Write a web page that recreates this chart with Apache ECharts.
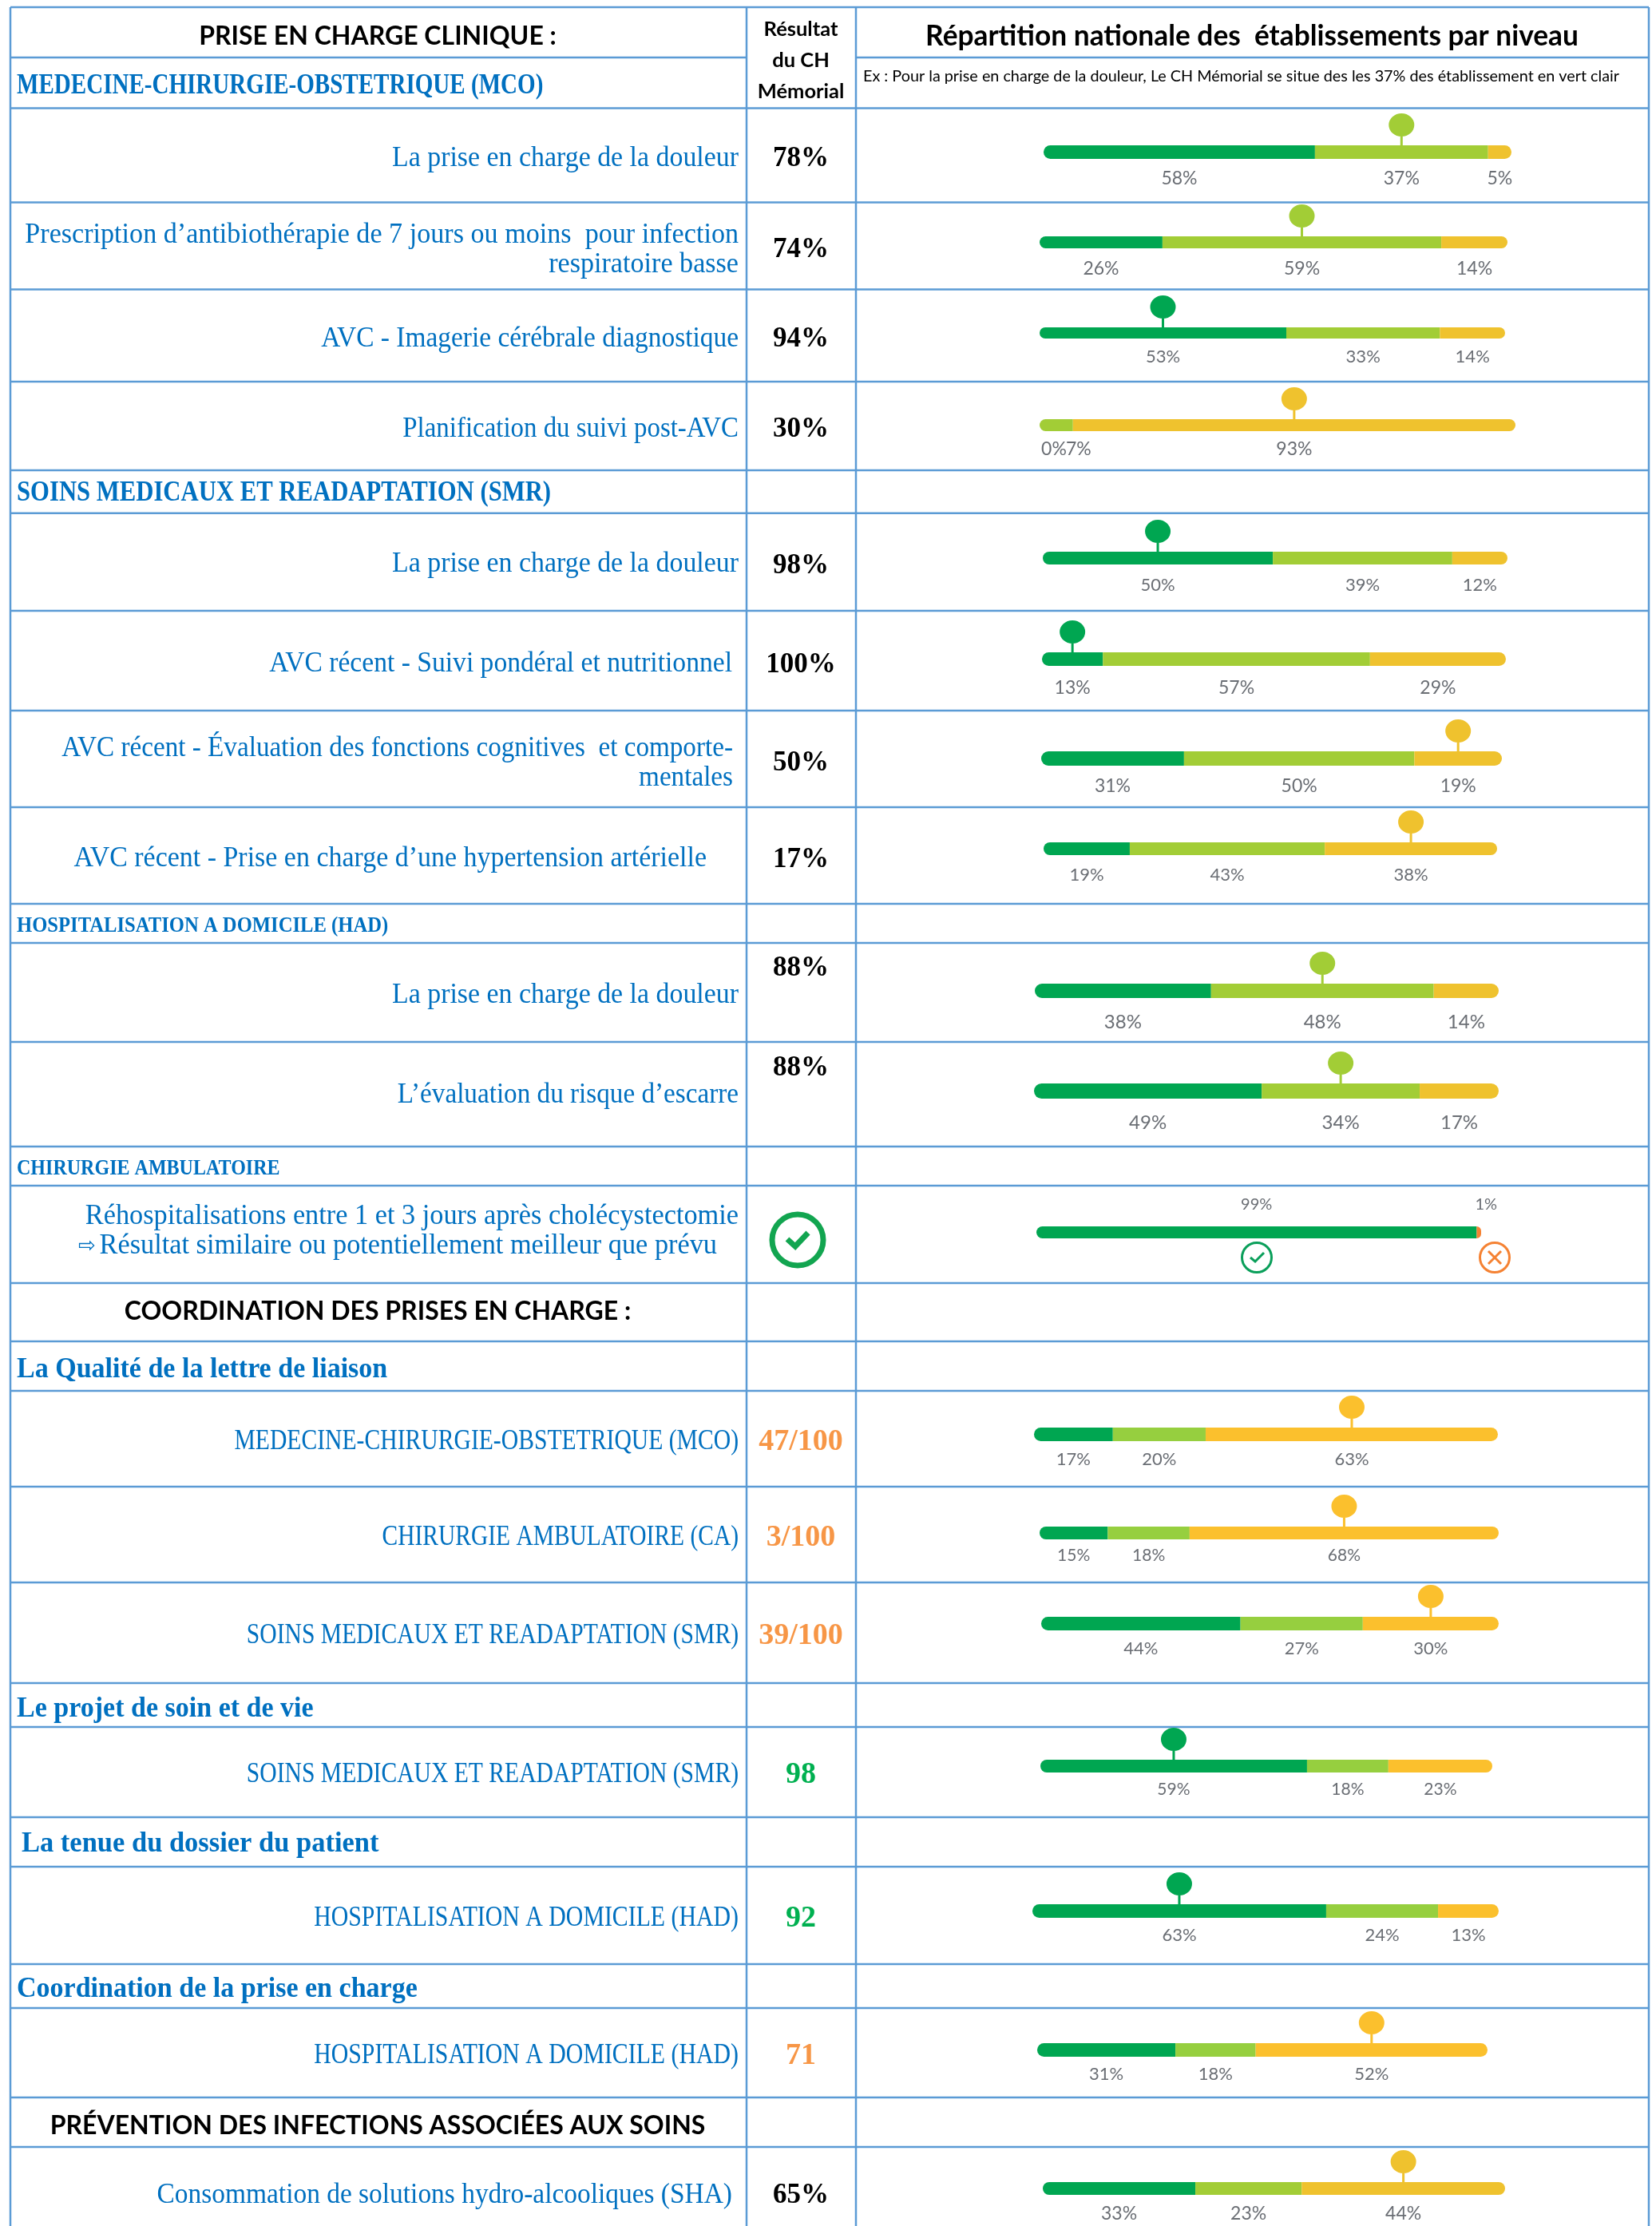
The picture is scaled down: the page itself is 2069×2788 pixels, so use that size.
<!DOCTYPE html>
<html>
<head>
<meta charset="utf-8">
<title>Qualité CH Mémorial</title>
<script src="https://cdn.jsdelivr.net/npm/echarts@6/dist/echarts.min.js"></script>
<style>
    html, body { margin: 0; padding: 0; background: #fff; }
    #chart { width: 2069px; height: 2788px; }
</style>
</head>
<body>
<div id="chart"></div>
<script>
// valeurs : une ligne par indicateur
const rowNames = [
    'La prise en charge de la douleur',
    'Prescription d’antibiothérapie de 7 jours ou moins  pour infection\nrespiratoire basse',
    'AVC - Imagerie cérébrale diagnostique',
    'Planification du suivi post-AVC',
    'La prise en charge de la douleur',
    'AVC récent - Suivi pondéral et nutritionnel',
    'AVC récent - Évaluation des fonctions cognitives  et comporte-\nmentales',
    'AVC récent - Prise en charge d’une hypertension artérielle',
    'La prise en charge de la douleur',
    'L’évaluation du risque d’escarre',
    'Réhospitalisations entre 1 et 3 jours après cholécystectomie',
    'MEDECINE-CHIRURGIE-OBSTETRIQUE (MCO)',
    'CHIRURGIE AMBULATOIRE (CA)',
    'SOINS MEDICAUX ET READAPTATION (SMR)',
    'SOINS MEDICAUX ET READAPTATION (SMR)',
    'HOSPITALISATION A DOMICILE (HAD)',
    'HOSPITALISATION A DOMICILE (HAD)',
    'Consommation de solutions hydro-alcooliques (SHA)'
]
const results = ['78%', '74%', '94%', '30%', '98%', '100%', '50%', '17%', '88%', '88%', '', '47/100', '3/100', '39/100', '98', '92', '71', '65%']
const darkGreen = [58, 26, 53, 0, 50, 13, 31, 19, 38, 49, 99, 17, 15, 44, 59, 63, 31, 33]
const lightGreen = [37, 59, 33, 7, 39, 57, 50, 43, 48, 34, null, 20, 18, 27, 18, 24, 18, 23]
const yellow = [5, 14, 14, 93, 12, 29, 19, 38, 14, 17, 1, 63, 68, 30, 23, 13, 52, 44]
// segment ou se situe le CH (0 vert, 1 vert clair, 2 jaune)
const pinLevel = [1, 1, 0, 2, 0, 0, 2, 2, 1, 1, null, 2, 2, 2, 0, 0, 2, 2]

// mise en page : gauche, droite, haut, hauteur de la barre, centre du libellé, taille du libellé
const barBoxes = [
    [1307, 1893, 182, 17, 224, 23], [1302, 1888, 296, 15, 337, 23], [1302, 1885, 410, 14, 447, 22],
    [1302, 1898, 525, 15, 563, 23], [1306, 1888, 691, 16, 733, 22], [1305, 1886, 817, 17, 862, 23],
    [1304, 1881, 941, 18, 985, 23], [1307, 1875, 1055, 16, 1096, 22], [1296, 1877, 1232, 18, 1280, 24],
    [1295, 1877, 1357, 19, 1406, 24], [1298, 1855, 1536, 15, 1509, 20], [1295, 1876, 1788, 17, 1828, 22],
    [1302, 1877, 1912, 16, 1948, 21], [1304, 1877, 2025, 17, 2065, 22], [1303, 1869, 2204, 16, 2241, 21],
    [1293, 1877, 2385, 17, 2424, 22], [1299, 1863, 2559, 17, 2598, 22], [1306, 1885, 2733, 16, 2773, 23]
]
const rowTextY = [196, 292, 422, 535, 704, 829, 935, 1073, 1244, 1369, 1521, 1803, 1923, 2046, 2220, 2400, 2572, 2747]
const rowTextRight = [925, 925, 925, 925, 925, 917, 918, 885, 925, 925, 925, 925, 925, 925, 925, 925, 925, 917]
// le texte d'origine (Cambria) est plus étroit que Liberation Serif
const rowTextScale = [.968, .975, .955, .94, .968, .96, .948, .97, .968, .948, .98, .847, .842, .846, .846, .852, .852, .955]
const resultY = [196, 310, 422, 535, 706, 830, 953, 1074, 1210, 1335, 0, 1803, 1923, 2046, 2220, 2400, 2572, 2747]
const lineY = [135.6, 253.5, 362.6, 478, 589, 642.7, 765, 890, 1011, 1132, 1181, 1305, 1436, 1485, 1607, 1680, 1742, 1862, 1982, 2108, 2163, 2276, 2338, 2460, 2515, 2627, 2689]

const paletteA = ['#00A651', '#A2CD36', '#EFC22E']
const paletteB = ['#00A651', '#96CF3F', '#FBC02D']
const blue = '#0070C0', lineColor = '#5B9BD5'
const serif = '"Liberation Serif", serif', sans = 'Lato, "Open Sans", sans-serif'
const pinPath = 'path://M16 0A16 14.5 0 1 1 16 29A16 14.5 0 1 1 16 0ZM14.5 27H17.5V40H14.5Z'

const paletteOf = (i) => {
    if (i === 10) return ['#00A651', '#96CF3F', '#F58233']
    return i >= 11 && i <= 16 ? paletteB : paletteA
}

var grid = [], xAxis = [], yAxis = [], series = []

rowNames.forEach((name, i) => {
    let [left, right, top, height, labelY, labelSize] = barBoxes[i]
    let values = [darkGreen[i], lightGreen[i], yellow[i]]
    let total = values.reduce((a, b) => a + (b || 0), 0)
    let colors = paletteOf(i)
    let shown = values.map((v, k) => v > 0 ? k : -1).filter(k => k >= 0)
    let r = height / 2

    grid.push({left: left, top: top, width: right - left, height: height})
    xAxis.push({type: 'value', gridIndex: i, min: 0, max: total, show: false})
    yAxis.push({type: 'category', gridIndex: i, data: [name], show: false})

    values.forEach((v, k) => {
        let radius = [k === shown[0] ? r : 0, k === shown[shown.length - 1] ? r : 0, k === shown[shown.length - 1] ? r : 0, k === shown[0] ? r : 0]
        let dx = 0
        // libellés décalés là où le segment est trop étroit
        if (i === 3 && k === 0) dx = 18
        if (i === 3 && k === 1) dx = 28
        if (i === 10 && k === 2) dx = 9
        series.push({
            type: 'bar',
            xAxisIndex: i,
            yAxisIndex: i,
            stack: 'row' + i,
            barWidth: '100%',
            silent: true,
            data: [v],
            itemStyle: {color: colors[k], borderRadius: radius},
            label: {
                show: v !== null,
                position: i === 10 ? 'top' : 'bottom',
                distance: i === 10 ? top - labelY - labelSize / 2 : labelY - top - height - labelSize / 2,
                offset: [dx, 0],
                formatter: '{c}%',
                fontFamily: sans,
                fontSize: labelSize,
                color: '#6A6E74'
            }
        })
    })

    if (pinLevel[i] !== null) {
        let level = pinLevel[i]
        let before = values.slice(0, level).reduce((a, b) => a + (b || 0), 0)
        series.push({
            type: 'scatter',
            xAxisIndex: i,
            yAxisIndex: i,
            silent: true,
            clip: false,
            z: 5,
            symbol: pinPath,
            symbolSize: [32, 40],
            symbolOffset: [0, -(height / 2 + 20)],
            itemStyle: {color: colors[level], opacity: 1},
            data: [[before + values[level] / 2, name]]
        })
    }
})

// quadrillage et textes du tableau
var graphic = []
const hLine = (y, x1, x2) => graphic.push({type: 'line', silent: true, shape: {x1: x1, y1: y, x2: x2, y2: y}, style: {stroke: lineColor, lineWidth: 2.5}})
const vLine = (x) => graphic.push({type: 'line', silent: true, shape: {x1: x, y1: 9, x2: x, y2: 2788}, style: {stroke: lineColor, lineWidth: 2.5}})
const addText = (text, x, y, align, font, fill, scaleX) => graphic.push({
    type: 'text', silent: true,
    x: x, y: y + 3, scaleX: scaleX || 1,
    style: {text: text, x: 0, y: 0, textAlign: align, textVerticalAlign: 'middle', font: font, fill: fill}
})

hLine(9, 13, 2065)
hLine(72, 13, 935)
hLine(72, 1072, 2065)
lineY.forEach(y => hLine(y, 13, 2065))
;[13, 935, 1072, 2065].forEach(vLine)

const boldBlue = (size) => `bold ${size}px ${serif}`
const heading = (size) => `bold ${size}px ${sans}`

addText('PRISE EN CHARGE CLINIQUE :', 473, 43, 'center', heading(32), '#000')
addText('Résultat', 1003, 34, 'center', heading(25.5), '#000')
addText('du CH', 1003, 73, 'center', heading(25.5), '#000')
addText('Mémorial', 1003, 112, 'center', heading(25.5), '#000')
addText('Répartition nationale des  établissements par niveau', 1568, 43, 'center', heading(35.3), '#000')
addText('Ex : Pour la prise en charge de la douleur, Le CH Mémorial se situe des les 37% des établissement en vert clair', 1081, 93, 'left', `19.8px ${sans}`, '#000')

addText('MEDECINE-CHIRURGIE-OBSTETRIQUE (MCO)', 21, 105, 'left', boldBlue(35), blue, .83)
addText('SOINS MEDICAUX ET READAPTATION (SMR)', 21, 615, 'left', boldBlue(35), blue, .877)
addText('HOSPITALISATION A DOMICILE (HAD)', 21, 1157, 'left', boldBlue(28), blue, .88)
addText('CHIRURGIE AMBULATOIRE', 21, 1461, 'left', boldBlue(27), blue, .89)
addText('La Qualité de la lettre de liaison', 21, 1713, 'left', boldBlue(36), blue, .945)
addText('Le projet de soin et de vie', 21, 2138, 'left', boldBlue(36), blue, .945)
addText('La tenue du dossier du patient', 27, 2307, 'left', boldBlue(36), blue, .958)
addText('Coordination de la prise en charge', 21, 2489, 'left', boldBlue(36), blue, .945)

addText('COORDINATION DES PRISES EN CHARGE :', 473, 1640, 'center', heading(32), '#000')
addText('PRÉVENTION DES INFECTIONS ASSOCIÉES AUX SOINS', 473, 2660, 'center', heading(32), '#000')

rowNames.forEach((name, i) => {
    name.split('\n').forEach((part, k) => {
        addText(part, rowTextRight[i], rowTextY[i] + k * 37, 'right', `35px ${serif}`, blue, rowTextScale[i])
    })
    let c = results[i]
    if (c !== '') {
        let isPct = c.indexOf('%') > 0
        let color = c.indexOf('/') > 0 || c === '71' ? '#F79646' : (isPct ? '#000' : '#00B050')
        addText(c, 1003, resultY[i], 'center', `bold ${isPct ? 35 : 38}px ${serif}`, color)
    }
})
addText('⇨', 109, 1558, 'center', `26px "DejaVu Sans"`, blue)
addText('Résultat similaire ou potentiellement meilleur que prévu', 898, 1558, 'right', `35px ${serif}`, blue, .98)

// grand symbole de la chirurgie ambulatoire
graphic.push({type: 'circle', silent: true, shape: {cx: 999, cy: 1553, r: 32}, style: {fill: 'none', stroke: '#12A550', lineWidth: 7}})
graphic.push({type: 'polyline', silent: true, shape: {points: [[986, 1552], [996, 1561], [1012, 1544]]}, style: {fill: 'none', stroke: '#12A550', lineWidth: 7}})
// petits symboles sous la barre
graphic.push({type: 'circle', silent: true, shape: {cx: 1574, cy: 1575, r: 18.5}, style: {fill: 'none', stroke: '#0A9F5A', lineWidth: 3}})
graphic.push({type: 'polyline', silent: true, shape: {points: [[1566, 1575], [1572, 1580], [1583, 1569]]}, style: {fill: 'none', stroke: '#0A9F5A', lineWidth: 3}})
graphic.push({type: 'circle', silent: true, shape: {cx: 1872, cy: 1575, r: 18.5}, style: {fill: 'none', stroke: '#F58233', lineWidth: 3}})
graphic.push({type: 'polyline', silent: true, shape: {points: [[1864, 1567], [1880, 1583]]}, style: {fill: 'none', stroke: '#F58233', lineWidth: 3}})
graphic.push({type: 'polyline', silent: true, shape: {points: [[1880, 1567], [1864, 1583]]}, style: {fill: 'none', stroke: '#F58233', lineWidth: 3}})

var chart = echarts.init(document.getElementById('chart'))
chart.setOption({
    backgroundColor: '#fff',
    animation: false,
    grid: grid,
    xAxis: xAxis,
    yAxis: yAxis,
    series: series,
    graphic: graphic
})
</script>
</body>
</html>
